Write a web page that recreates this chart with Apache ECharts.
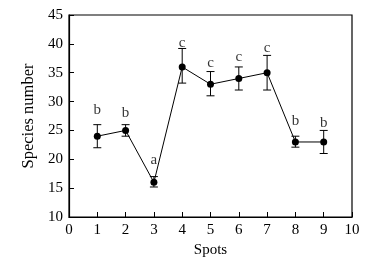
<!DOCTYPE html>
<html>
<head>
<meta charset="utf-8">
<script src="https://cdn.jsdelivr.net/npm/echarts@6/dist/echarts.min.js"></script>
<style>
  html, body { margin: 0; padding: 0; background: #fff; }
  #chart { width: 390px; height: 265px; }
</style>
</head>
<body>
<div id="chart"></div>
<script>
const spots = [1, 2, 3, 4, 5, 6, 7, 8, 9]
const species = [24, 25, 16, 36, 33, 34, 35, 23, 23]
const errLow = [22, 24, 15.2, 33.2, 31, 32, 32, 22.1, 21]
const errHigh = [26, 26, 17, 39.2, 35.2, 36, 38, 24, 25]
const groups = ['b', 'b', 'a', 'c', 'c', 'c', 'c', 'b', 'b']
const groupY = [28.5, 28.0, 19.9, 40.2, 36.7, 37.7, 39.3, 26.7, 26.3]

const font = 'Liberation Serif'
const chart = echarts.init(document.getElementById('chart'))

const axisCommon = {
  axisLine: { show: true, lineStyle: { color: '#000', width: 1.2 } },
  axisTick: { show: true, inside: true, length: 5, lineStyle: { color: '#000' } },
  axisLabel: { color: '#000', fontFamily: font, fontSize: 15, margin: 6 },
  splitLine: { show: false },
  nameTextStyle: { color: '#000', fontFamily: font, fontSize: 15 },
}

chart.setOption({
  animation: false,
  grid: {
    left: 69, right: 38, top: 15, bottom: 48,
    show: true, borderColor: '#000', borderWidth: 1.2,
  },
  xAxis: {
    ...axisCommon,
    type: 'value', min: 0, max: 10, interval: 1,
    name: 'Spots', nameLocation: 'middle', nameGap: 19,
  },
  yAxis: {
    ...axisCommon,
    type: 'value', min: 10, max: 45, interval: 5,
    name: 'Species number', nameLocation: 'middle', nameGap: 32,
    nameTextStyle: { color: '#000', fontFamily: font, fontSize: 16.5 },
  },
  series: [
    {
      type: 'custom',
      data: spots.map((s, i) => [s, errLow[i], errHigh[i]]),
      renderItem: (params, api) => {
        const lo = api.coord([api.value(0), api.value(1)])
        const hi = api.coord([api.value(0), api.value(2)])
        const w = 4
        const style = { stroke: '#000', lineWidth: 1 }
        return {
          type: 'group',
          children: [
            { type: 'line', shape: { x1: lo[0], y1: lo[1], x2: hi[0], y2: hi[1] }, style },
            { type: 'line', shape: { x1: lo[0] - w, y1: lo[1], x2: lo[0] + w, y2: lo[1] }, style },
            { type: 'line', shape: { x1: hi[0] - w, y1: hi[1], x2: hi[0] + w, y2: hi[1] }, style },
          ],
        }
      },
      z: 1,
    },
    {
      type: 'line',
      data: spots.map((s, i) => [s, species[i]]),
      symbol: 'circle',
      symbolSize: 7,
      itemStyle: { color: '#000' },
      lineStyle: { color: '#000', width: 1 },
      z: 2,
    },
    {
      type: 'scatter',
      data: spots.map((s, i) => [s, groupY[i]]),
      symbolSize: 0,
      label: {
        show: true,
        position: 'inside',
        formatter: (p) => groups[p.dataIndex],
        color: '#000',
        fontFamily: font,
        fontSize: 15,
      },
    },
  ],
})
</script>
</body>
</html>
